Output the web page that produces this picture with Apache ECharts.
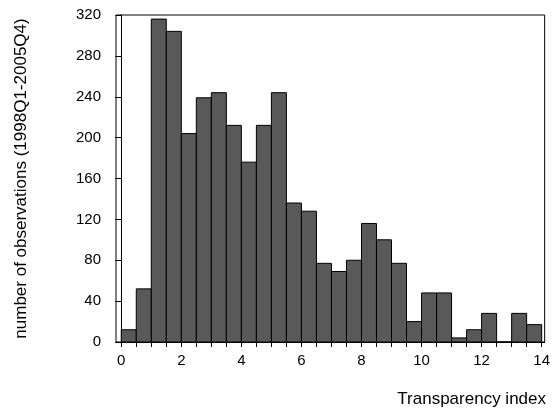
<!DOCTYPE html>
<html>
<head>
<meta charset="utf-8">
<script src="https://cdn.jsdelivr.net/npm/echarts@6/dist/echarts.min.js"></script>
<style>
  html, body { margin: 0; padding: 0; background: #fff; }
  #main { width: 553px; height: 416px; }
</style>
</head>
<body>
<div id="main"></div>
<script>
// histogram bins (left edge, bin width 0.5) and counts
var binStarts = [0, 0.5, 1, 1.5, 2, 2.5, 3, 3.5, 4, 4.5, 5, 5.5, 6, 6.5,
                 7, 7.5, 8, 8.5, 9, 9.5, 10, 10.5, 11, 11.5, 12, 12.5, 13, 13.5];
var binWidth = 0.5;
var counts = [12, 52, 316, 304, 204, 239, 244, 212, 176, 212, 244, 136, 128, 77,
              69, 80, 116, 100, 77, 20, 48, 48, 4, 12, 28, 0, 28, 17];

var xTicks = [0, 0.5, 1, 1.5, 2, 2.5, 3, 3.5, 4, 4.5, 5, 5.5, 6, 6.5, 7,
              7.5, 8, 8.5, 9, 9.5, 10, 10.5, 11, 11.5, 12, 12.5, 13, 13.5, 14];
var xLabels = [0, 2, 4, 6, 8, 10, 12, 14];

var font = "'Liberation Sans', Arial, sans-serif";

var data = [];
for (var i = 0; i < counts.length; i++) {
  data.push([binStarts[i], binStarts[i] + binWidth, counts[i]]);
}

var chart = echarts.init(document.getElementById('main'));

var option = {
  animation: false,
  grid: {
    left: 116, right: 3, top: 15, bottom: 74,
    show: true, borderColor: '#000', borderWidth: 1
  },
  xAxis: {
    type: 'value',
    min: -0.175,
    max: 14.1,
    splitLine: {show: false},
    axisLine: {lineStyle: {color: '#000', width: 1}},
    axisTick: {customValues: xTicks, length: 5, lineStyle: {color: '#000'}},
    axisLabel: {customValues: xLabels, margin: 11, color: '#000', fontSize: 15, fontFamily: font}
  },
  yAxis: {
    type: 'value',
    min: 0,
    max: 320,
    interval: 40,
    name: 'number of observations (1998Q1-2005Q4)',
    nameLocation: 'middle',
    nameGap: 86,
    nameTextStyle: {color: '#000', fontSize: 17, fontFamily: font},
    splitLine: {show: false},
    axisLine: {show: true, lineStyle: {color: '#000', width: 1}},
    axisTick: {show: true, length: 6, lineStyle: {color: '#000'}},
    axisLabel: {margin: 15, color: '#000', fontSize: 15, fontFamily: font}
  },
  graphic: [{
    type: 'text',
    right: 7,
    top: 391,
    style: {text: 'Transparency index', fill: '#000', fontSize: 17, fontFamily: font}
  }],
  series: [{
    type: 'custom',
    data: data,
    encode: {x: [0, 1], y: 2},
    renderItem: function (params, api) {
      var x0 = api.value(0), x1 = api.value(1), v = api.value(2);
      var p0 = api.coord([x0, v]);
      var p1 = api.coord([x1, 0]);
      return {
        type: 'rect',
        shape: {x: p0[0], y: p0[1], width: p1[0] - p0[0], height: p1[1] - p0[1]},
        style: {fill: '#595959', stroke: '#000', lineWidth: 1}
      };
    }
  }]
};

chart.setOption(option);
</script>
</body>
</html>
